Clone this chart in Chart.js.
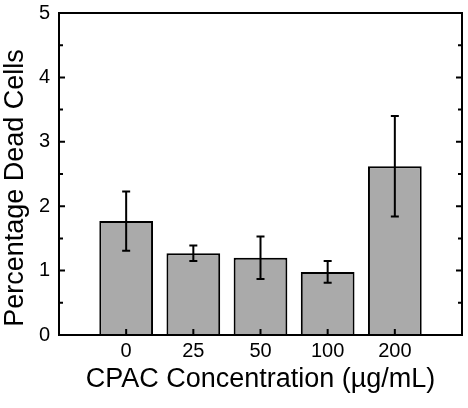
<!DOCTYPE html>
<html>
<head>
<meta charset="utf-8">
<script src="https://cdn.jsdelivr.net/npm/chart.js@4"></script>
<style>
  body { margin: 0; background: #fff; }
  #wrap { width: 468px; height: 408px; }
</style>
</head>
<body>
<div id="wrap"><canvas id="myChart"></canvas></div>
<script>
// data
const categories = ['0', '25', '50', '100', '200'];
const means = [1.77, 1.27, 1.20, 0.98, 2.62];
const errors = [0.46, 0.12, 0.33, 0.17, 0.78];
const yTicks = [0, 1, 2, 3, 4, 5];
const yTitle = 'Percentage Dead Cells';
const xTitle = 'CPAC Concentration (µg/mL)';

// one empty slot on each side, like the original axis
const labels = [''].concat(categories, ['']);
const barData = [null].concat(means, [null]);

const fontFamily = 'Liberation Sans, Arial, sans-serif';

// error bars, box frame, inward tick marks and the y title
const extras = {
    id: 'extras',
    afterDatasetsDraw(chart) {
        const ctx = chart.ctx;
        const a = chart.chartArea;
        const x = chart.scales.x;
        const y = chart.scales.y;
        ctx.save();
        ctx.strokeStyle = '#000';
        ctx.lineWidth = 2;

        means.forEach((m, i) => {
            const px = x.getPixelForValue(i + 1);
            const hi = y.getPixelForValue(m + errors[i]);
            const lo = y.getPixelForValue(m - errors[i]);
            ctx.beginPath();
            ctx.moveTo(px, hi); ctx.lineTo(px, lo);
            ctx.moveTo(px - 4, hi); ctx.lineTo(px + 4, hi);
            ctx.moveTo(px - 4, lo); ctx.lineTo(px + 4, lo);
            ctx.stroke();
        });

        ctx.strokeRect(a.left, a.top, a.right - a.left, a.bottom - a.top);

        ctx.beginPath();
        for (let v = yTicks[0]; v <= yTicks[yTicks.length - 1]; v += 0.5) {
            const py = y.getPixelForValue(v);
            const len = v % 1 === 0 ? 6 : 4;
            ctx.moveTo(a.left, py); ctx.lineTo(a.left + len, py);
            ctx.moveTo(a.right, py); ctx.lineTo(a.right - len, py);
        }
        categories.forEach((c, i) => {
            const px = x.getPixelForValue(i + 1);
            ctx.moveTo(px, a.bottom); ctx.lineTo(px, a.bottom - 6);
        });
        ctx.stroke();

        // y title sits a bit below the middle of the axis in the original
        ctx.translate(22.5, (a.top + a.bottom) / 2 + 14);
        ctx.rotate(-Math.PI / 2);
        ctx.fillStyle = '#000';
        ctx.font = '27px ' + fontFamily;
        ctx.textAlign = 'center';
        ctx.textBaseline = 'alphabetic';
        ctx.fillText(yTitle, 0, 0);
        ctx.restore();
    }
};

const ctx = document.getElementById('myChart').getContext('2d');
new Chart(ctx, {
    type: 'bar',
    data: {
        labels: labels,
        datasets: [{
            data: barData,
            backgroundColor: '#aaaaaa',
            borderColor: '#000',
            borderWidth: 2,
            categoryPercentage: 1,
            barPercentage: 0.8
        }]
    },
    options: {
        responsive: true,
        maintainAspectRatio: false,
        animation: false,
        layout: { padding: { top: 13, right: 6, left: 0, bottom: 0 } },
        plugins: { legend: { display: false }, tooltip: { enabled: false } },
        scales: {
            x: {
                offset: false,
                grid: { display: false, drawTicks: false },
                border: { display: false },
                ticks: {
                    color: '#000',
                    font: { family: fontFamily, size: 20 },
                    padding: 4,
                    maxRotation: 0,
                    autoSkip: false
                },
                title: {
                    display: true,
                    text: xTitle,
                    color: '#000',
                    font: { family: fontFamily, size: 27, lineHeight: 1 },
                    padding: { top: 0, bottom: 15 }
                },
                afterFit(scale) { scale.height = 73; }
            },
            y: {
                min: yTicks[0],
                max: yTicks[yTicks.length - 1],
                grid: { display: false, drawTicks: false },
                border: { display: false },
                ticks: {
                    stepSize: 1,
                    color: '#000',
                    font: { family: fontFamily, size: 20 },
                    padding: 9
                },
                afterFit(scale) {
                    scale.width = 59;
                    scale.paddingTop = 0;
                    scale.paddingBottom = 0;
                }
            }
        }
    },
    plugins: [extras]
});
</script>
</body>
</html>
